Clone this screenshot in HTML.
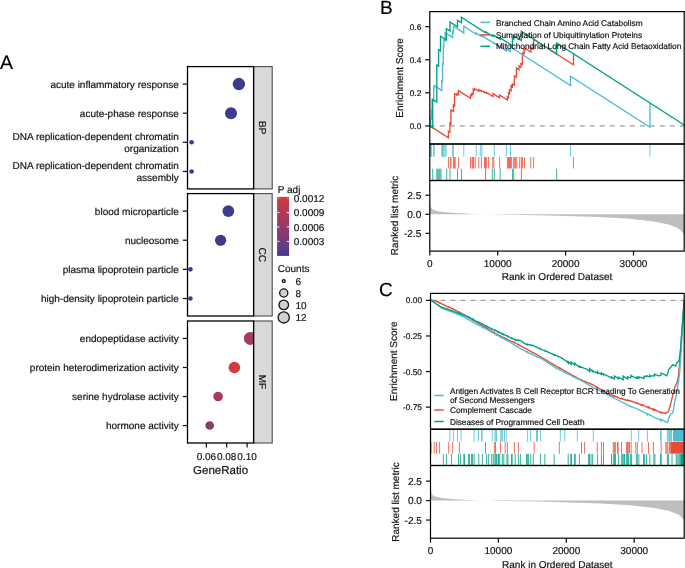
<!DOCTYPE html>
<html><head><meta charset="utf-8"><style>
html,body{margin:0;padding:0;background:#fff;}
svg{display:block;font-family:"Liberation Sans", sans-serif;will-change:transform;text-rendering:geometricPrecision;}
text{stroke:currentColor;stroke-width:0.18px;}
</style></head><body>
<svg width="685" height="568" viewBox="0 0 685 568">
<rect x="0" y="0" width="685" height="568" fill="#fff"/>
<text x="0.00" y="69.00" font-size="19.5" text-anchor="start" fill="#000" color="#000" >A</text>
<defs>
<clipPath id="clipA0"><rect x="187.5" y="66.6" width="66.1" height="122.30000000000001"/></clipPath>
<clipPath id="clipA1"><rect x="187.5" y="193.6" width="66.1" height="122.4"/></clipPath>
<clipPath id="clipA2"><rect x="187.5" y="321.0" width="66.1" height="122.0"/></clipPath>
</defs>
<rect x="253.60" y="66.60" width="18.60" height="122.30" fill="#D9D9D9" stroke="#4D4D4D" stroke-width="1.1" />
<text transform="translate(259.30,127.75) rotate(90)" font-size="10" text-anchor="middle" fill="#111111" color="#111111">BP</text>
<g clip-path="url(#clipA0)">
<circle cx="238.90" cy="84.07" r="6.20" fill="#3E3A8E"/>
<circle cx="231.00" cy="113.19" r="6.00" fill="#3E3A8E"/>
<circle cx="191.60" cy="142.31" r="2.30" fill="#3E3A8E"/>
<circle cx="191.60" cy="171.43" r="2.30" fill="#3E3A8E"/>
</g>
<rect x="187.50" y="66.60" width="66.10" height="122.30" fill="none" stroke="#000" stroke-width="1.3" />
<line x1="182.80" y1="84.07" x2="187.50" y2="84.07" stroke="#111111" stroke-width="1.25" />
<text x="178.80" y="87.67" font-size="10" text-anchor="end" fill="#111111" color="#111111" >acute inflammatory response</text>
<line x1="182.80" y1="113.19" x2="187.50" y2="113.19" stroke="#111111" stroke-width="1.25" />
<text x="178.80" y="116.79" font-size="10" text-anchor="end" fill="#111111" color="#111111" >acute-phase response</text>
<line x1="182.80" y1="142.31" x2="187.50" y2="142.31" stroke="#111111" stroke-width="1.25" />
<text x="178.80" y="140.31" font-size="10" text-anchor="end" fill="#111111" color="#111111" >DNA replication-dependent chromatin</text>
<text x="178.80" y="151.51" font-size="10" text-anchor="end" fill="#111111" color="#111111" >organization</text>
<line x1="182.80" y1="171.43" x2="187.50" y2="171.43" stroke="#111111" stroke-width="1.25" />
<text x="178.80" y="169.43" font-size="10" text-anchor="end" fill="#111111" color="#111111" >DNA replication-dependent chromatin</text>
<text x="178.80" y="180.63" font-size="10" text-anchor="end" fill="#111111" color="#111111" >assembly</text>
<rect x="253.60" y="193.60" width="18.60" height="122.40" fill="#D9D9D9" stroke="#4D4D4D" stroke-width="1.1" />
<text transform="translate(259.30,254.80) rotate(90)" font-size="10" text-anchor="middle" fill="#111111" color="#111111">CC</text>
<g clip-path="url(#clipA1)">
<circle cx="228.35" cy="211.09" r="5.90" fill="#3E3A8E"/>
<circle cx="220.60" cy="240.23" r="5.60" fill="#3E3A8E"/>
<circle cx="190.40" cy="269.37" r="2.30" fill="#3E3A8E"/>
<circle cx="190.40" cy="298.51" r="2.30" fill="#3E3A8E"/>
</g>
<rect x="187.50" y="193.60" width="66.10" height="122.40" fill="none" stroke="#000" stroke-width="1.3" />
<line x1="182.80" y1="211.09" x2="187.50" y2="211.09" stroke="#111111" stroke-width="1.25" />
<text x="178.80" y="214.69" font-size="10" text-anchor="end" fill="#111111" color="#111111" >blood microparticle</text>
<line x1="182.80" y1="240.23" x2="187.50" y2="240.23" stroke="#111111" stroke-width="1.25" />
<text x="178.80" y="243.83" font-size="10" text-anchor="end" fill="#111111" color="#111111" >nucleosome</text>
<line x1="182.80" y1="269.37" x2="187.50" y2="269.37" stroke="#111111" stroke-width="1.25" />
<text x="178.80" y="272.97" font-size="10" text-anchor="end" fill="#111111" color="#111111" >plasma lipoprotein particle</text>
<line x1="182.80" y1="298.51" x2="187.50" y2="298.51" stroke="#111111" stroke-width="1.25" />
<text x="178.80" y="302.11" font-size="10" text-anchor="end" fill="#111111" color="#111111" >high-density lipoprotein particle</text>
<rect x="253.60" y="321.00" width="18.60" height="122.00" fill="#D9D9D9" stroke="#4D4D4D" stroke-width="1.1" />
<text transform="translate(259.30,382.00) rotate(90)" font-size="10" text-anchor="middle" fill="#111111" color="#111111">MF</text>
<g clip-path="url(#clipA2)">
<circle cx="250.40" cy="338.43" r="6.50" fill="#A53C5C"/>
<circle cx="234.40" cy="367.48" r="5.80" fill="#CF3C3E"/>
<circle cx="218.10" cy="396.52" r="4.80" fill="#A53C5C"/>
<circle cx="209.70" cy="425.57" r="4.30" fill="#8C3A6C"/>
</g>
<rect x="187.50" y="321.00" width="66.10" height="122.00" fill="none" stroke="#000" stroke-width="1.3" />
<line x1="182.80" y1="338.43" x2="187.50" y2="338.43" stroke="#111111" stroke-width="1.25" />
<text x="178.80" y="342.03" font-size="10" text-anchor="end" fill="#111111" color="#111111" >endopeptidase activity</text>
<line x1="182.80" y1="367.48" x2="187.50" y2="367.48" stroke="#111111" stroke-width="1.25" />
<text x="178.80" y="371.08" font-size="10" text-anchor="end" fill="#111111" color="#111111" >protein heterodimerization activity</text>
<line x1="182.80" y1="396.52" x2="187.50" y2="396.52" stroke="#111111" stroke-width="1.25" />
<text x="178.80" y="400.12" font-size="10" text-anchor="end" fill="#111111" color="#111111" >serine hydrolase activity</text>
<line x1="182.80" y1="425.57" x2="187.50" y2="425.57" stroke="#111111" stroke-width="1.25" />
<text x="178.80" y="429.17" font-size="10" text-anchor="end" fill="#111111" color="#111111" >hormone activity</text>
<line x1="206.40" y1="443.00" x2="206.40" y2="447.60" stroke="#111111" stroke-width="1.25" />
<text x="206.40" y="459.60" font-size="10" text-anchor="middle" fill="#111111" color="#111111" >0.06</text>
<line x1="226.65" y1="443.00" x2="226.65" y2="447.60" stroke="#111111" stroke-width="1.25" />
<text x="226.65" y="459.60" font-size="10" text-anchor="middle" fill="#111111" color="#111111" >0.08</text>
<line x1="247.10" y1="443.00" x2="247.10" y2="447.60" stroke="#111111" stroke-width="1.25" />
<text x="247.10" y="459.60" font-size="10" text-anchor="middle" fill="#111111" color="#111111" >0.10</text>
<text x="220.60" y="474.20" font-size="11.5" text-anchor="middle" fill="#111111" color="#111111" >GeneRatio</text>
<text x="277.75" y="193.30" font-size="10" text-anchor="start" fill="#111111" color="#111111" >P adj</text>
<defs><linearGradient id="cb" x1="0" y1="0" x2="0" y2="1"><stop offset="0" stop-color="rgb(208,60,62)"/><stop offset="0.154" stop-color="rgb(192,58,75)"/><stop offset="0.358" stop-color="rgb(168,58,92)"/><stop offset="0.493" stop-color="rgb(152,58,102)"/><stop offset="0.832" stop-color="rgb(102,58,130)"/><stop offset="0.968" stop-color="rgb(70,58,140)"/><stop offset="1" stop-color="rgb(64,58,142)"/></linearGradient></defs>
<rect x="277.10" y="196.90" width="12.00" height="59.00" fill="url(#cb)" stroke="none" stroke-width="1.0" />
<line x1="277.10" y1="198.00" x2="279.50" y2="198.00" stroke="#fff" stroke-width="0.9" stroke-opacity="0.45"/>
<line x1="286.70" y1="198.00" x2="289.10" y2="198.00" stroke="#fff" stroke-width="0.9" stroke-opacity="0.45"/>
<text x="293.75" y="201.70" font-size="10" text-anchor="start" fill="#111111" color="#111111" >0.0012</text>
<line x1="277.10" y1="212.50" x2="279.50" y2="212.50" stroke="#fff" stroke-width="0.9" />
<line x1="286.70" y1="212.50" x2="289.10" y2="212.50" stroke="#fff" stroke-width="0.9" />
<text x="293.75" y="216.20" font-size="10" text-anchor="start" fill="#111111" color="#111111" >0.0009</text>
<line x1="277.10" y1="226.90" x2="279.50" y2="226.90" stroke="#fff" stroke-width="0.9" />
<line x1="286.70" y1="226.90" x2="289.10" y2="226.90" stroke="#fff" stroke-width="0.9" />
<text x="293.75" y="230.60" font-size="10" text-anchor="start" fill="#111111" color="#111111" >0.0006</text>
<line x1="277.10" y1="241.35" x2="279.50" y2="241.35" stroke="#fff" stroke-width="0.9" />
<line x1="286.70" y1="241.35" x2="289.10" y2="241.35" stroke="#fff" stroke-width="0.9" />
<text x="293.75" y="245.05" font-size="10" text-anchor="start" fill="#111111" color="#111111" >0.0003</text>
<text x="277.75" y="271.60" font-size="10" text-anchor="start" fill="#111111" color="#111111" >Counts</text>
<circle cx="283.75" cy="281.1" r="1.5" fill="#CFCFCF" stroke="#111" stroke-width="1.3"/>
<text x="295.40" y="284.70" font-size="10" text-anchor="start" fill="#111111" color="#111111" >6</text>
<circle cx="283.75" cy="293.0" r="4.1" fill="#CFCFCF" stroke="#111" stroke-width="1.3"/>
<text x="295.40" y="296.60" font-size="10" text-anchor="start" fill="#111111" color="#111111" >8</text>
<circle cx="283.75" cy="304.9" r="4.8" fill="#CFCFCF" stroke="#111" stroke-width="1.3"/>
<text x="295.40" y="308.50" font-size="10" text-anchor="start" fill="#111111" color="#111111" >10</text>
<circle cx="283.75" cy="317.4" r="5.6" fill="#CFCFCF" stroke="#111" stroke-width="1.3"/>
<text x="295.40" y="321.00" font-size="10" text-anchor="start" fill="#111111" color="#111111" >12</text>
<text x="379.90" y="14.00" font-size="19" text-anchor="start" fill="#000" color="#000" >B</text>
<path d="M429.80,214.30 L429.80,202.11 L430.20,204.39 L430.70,206.68 L432.00,209.12 L435.00,210.49 L438.40,211.25 L442.80,212.01 L448.70,212.55 L454.80,213.00 L459.10,213.23 L467.40,213.61 L474.80,213.92 L482.80,214.22 L487.80,214.30 L499.80,214.60 L539.80,215.21 L599.80,217.04 L629.80,218.87 L653.60,221.54 L668.60,224.43 L677.50,228.02 L680.30,229.92 L682.30,232.21 L683.50,234.11 L684.20,236.40 L684.20,214.30 Z" fill="#BEBEBE" stroke="none"/>
<line x1="429.80" y1="125.90" x2="684.20" y2="125.90" stroke="#9E9E9E" stroke-width="1.3" stroke-dasharray="5 5"/>
<path d="M429.80,125.90 L448.40,137.86 L448.40,131.25 L449.90,132.21 L449.90,123.10 L450.90,123.74 L450.90,110.00 L453.40,111.61 L453.40,105.00 L454.60,105.77 L454.60,93.75 L457.00,95.29 L457.00,93.75 L458.40,94.65 L458.40,90.60 L470.50,98.38 L470.50,95.00 L471.80,95.84 L471.80,93.40 L473.20,94.30 L473.20,89.20 L474.50,90.04 L474.50,88.50 L478.80,91.26 L478.80,89.50 L481.40,91.17 L481.40,90.50 L484.50,92.49 L484.50,92.00 L486.60,93.35 L486.60,92.50 L493.00,96.62 L493.00,93.60 L499.50,97.78 L499.50,95.00 L507.40,100.08 L507.40,97.10 L508.50,97.81 L508.50,93.00 L509.50,93.64 L509.50,89.80 L511.10,90.83 L511.10,85.80 L512.40,86.64 L512.40,83.90 L514.40,85.19 L514.40,75.90 L516.40,77.19 L516.40,68.00 L519.00,69.67 L519.00,66.00 L521.00,67.29 L521.00,63.40 L522.40,64.30 L522.40,54.10 L523.00,54.49 L523.00,52.80 L524.10,53.51 L524.10,49.50 L525.00,50.08 L525.00,48.20 L530.90,51.99 L530.90,47.50 L533.60,49.24 L533.60,39.20 L573.50,64.86 L573.50,53.90" fill="none" stroke="#E64B35" stroke-width="1.35" stroke-linejoin="miter"/>
<path d="M429.80,125.90 L430.80,126.54 L430.80,118.00 L431.40,118.39 L431.40,110.00 L432.00,110.39 L432.00,100.00 L433.70,101.09 L433.70,88.00 L434.20,88.32 L434.20,85.60 L441.70,90.42 L441.70,81.00 L442.50,81.51 L442.50,63.75 L443.30,64.26 L443.30,46.30 L443.90,46.69 L443.90,40.00 L445.10,40.77 L445.10,33.10 L446.10,33.74 L446.10,33.30 L452.50,37.42 L452.50,31.60 L453.50,32.24 L453.50,26.30 L463.80,32.92 L463.80,26.25 L476.20,34.22 L476.20,33.00 L480.30,35.64 L480.30,35.20 L481.90,36.23 L481.90,35.60 L494.30,43.57 L494.30,43.10 L506.40,50.88 L506.40,49.00 L510.50,51.64 L510.50,47.00 L570.50,85.58 L570.50,76.25 L650.00,127.37 L650.00,103.10" fill="none" stroke="#4DBBD5" stroke-width="1.35" stroke-linejoin="miter"/>
<path d="M429.80,125.90 L432.70,127.76 L432.70,99.40 L436.80,102.04 L436.80,65.00 L438.60,66.16 L438.60,49.75 L440.50,50.97 L440.50,36.25 L446.40,40.04 L446.40,28.75 L450.00,31.06 L450.00,21.90 L457.50,26.72 L457.50,20.25 L461.40,22.76 L461.40,17.25 L485.50,32.75 L485.50,31.70 L492.30,36.07 L492.30,35.00 L494.30,36.29 L494.30,35.50 L500.20,39.29 L500.20,38.00 L512.40,45.84 L512.40,38.30 L513.70,39.14 L513.70,35.60 L521.30,40.49 L521.30,31.25 L556.60,53.95 L556.60,43.00 L684.20,125.05" fill="none" stroke="#00A087" stroke-width="1.35" stroke-linejoin="miter"/>
<line x1="429.90" y1="144.60" x2="429.90" y2="156.70" stroke="#4DBBD5" stroke-width="0.8" />
<line x1="430.60" y1="144.60" x2="430.60" y2="156.70" stroke="#4DBBD5" stroke-width="0.8" />
<line x1="431.60" y1="144.60" x2="431.60" y2="156.70" stroke="#4DBBD5" stroke-width="0.8" />
<line x1="433.70" y1="144.60" x2="433.70" y2="156.70" stroke="#4DBBD5" stroke-width="0.8" />
<line x1="434.20" y1="144.60" x2="434.20" y2="156.70" stroke="#4DBBD5" stroke-width="0.8" />
<line x1="441.70" y1="144.60" x2="441.70" y2="156.70" stroke="#4DBBD5" stroke-width="0.8" />
<line x1="442.50" y1="144.60" x2="442.50" y2="156.70" stroke="#4DBBD5" stroke-width="0.8" />
<line x1="443.30" y1="144.60" x2="443.30" y2="156.70" stroke="#4DBBD5" stroke-width="0.8" />
<line x1="443.90" y1="144.60" x2="443.90" y2="156.70" stroke="#4DBBD5" stroke-width="0.8" />
<line x1="445.10" y1="144.60" x2="445.10" y2="156.70" stroke="#4DBBD5" stroke-width="0.8" />
<line x1="446.10" y1="144.60" x2="446.10" y2="156.70" stroke="#4DBBD5" stroke-width="0.8" />
<line x1="452.40" y1="144.60" x2="452.40" y2="156.70" stroke="#4DBBD5" stroke-width="0.8" />
<line x1="453.40" y1="144.60" x2="453.40" y2="156.70" stroke="#4DBBD5" stroke-width="0.8" />
<line x1="463.80" y1="144.60" x2="463.80" y2="156.70" stroke="#4DBBD5" stroke-width="0.8" />
<line x1="476.20" y1="144.60" x2="476.20" y2="156.70" stroke="#4DBBD5" stroke-width="0.8" />
<line x1="480.30" y1="144.60" x2="480.30" y2="156.70" stroke="#4DBBD5" stroke-width="0.8" />
<line x1="481.90" y1="144.60" x2="481.90" y2="156.70" stroke="#4DBBD5" stroke-width="0.8" />
<line x1="494.30" y1="144.60" x2="494.30" y2="156.70" stroke="#4DBBD5" stroke-width="0.8" />
<line x1="506.40" y1="144.60" x2="506.40" y2="156.70" stroke="#4DBBD5" stroke-width="0.8" />
<line x1="510.50" y1="144.60" x2="510.50" y2="156.70" stroke="#4DBBD5" stroke-width="0.8" />
<line x1="570.50" y1="144.60" x2="570.50" y2="156.70" stroke="#4DBBD5" stroke-width="0.8" />
<line x1="650.00" y1="144.60" x2="650.00" y2="156.70" stroke="#4DBBD5" stroke-width="0.8" />
<line x1="448.40" y1="157.00" x2="448.40" y2="168.50" stroke="#E64B35" stroke-width="0.8" />
<line x1="450.30" y1="157.00" x2="450.30" y2="168.50" stroke="#E64B35" stroke-width="0.8" />
<line x1="451.00" y1="157.00" x2="451.00" y2="168.50" stroke="#E64B35" stroke-width="0.8" />
<line x1="453.40" y1="157.00" x2="453.40" y2="168.50" stroke="#E64B35" stroke-width="0.8" />
<line x1="454.40" y1="157.00" x2="454.40" y2="168.50" stroke="#E64B35" stroke-width="0.8" />
<line x1="455.20" y1="157.00" x2="455.20" y2="168.50" stroke="#E64B35" stroke-width="0.8" />
<line x1="458.60" y1="157.00" x2="458.60" y2="168.50" stroke="#E64B35" stroke-width="0.8" />
<line x1="470.50" y1="157.00" x2="470.50" y2="168.50" stroke="#E64B35" stroke-width="0.8" />
<line x1="472.05" y1="157.00" x2="472.05" y2="168.50" stroke="#E64B35" stroke-width="0.8" />
<line x1="472.80" y1="157.00" x2="472.80" y2="168.50" stroke="#E64B35" stroke-width="0.8" />
<line x1="473.60" y1="157.00" x2="473.60" y2="168.50" stroke="#E64B35" stroke-width="0.8" />
<line x1="475.20" y1="157.00" x2="475.20" y2="168.50" stroke="#E64B35" stroke-width="0.8" />
<line x1="478.80" y1="157.00" x2="478.80" y2="168.50" stroke="#E64B35" stroke-width="0.8" />
<line x1="481.40" y1="157.00" x2="481.40" y2="168.50" stroke="#E64B35" stroke-width="0.8" />
<line x1="484.50" y1="157.00" x2="484.50" y2="168.50" stroke="#E64B35" stroke-width="0.8" />
<line x1="485.50" y1="157.00" x2="485.50" y2="168.50" stroke="#E64B35" stroke-width="0.8" />
<line x1="486.60" y1="157.00" x2="486.60" y2="168.50" stroke="#E64B35" stroke-width="0.8" />
<line x1="488.60" y1="157.00" x2="488.60" y2="168.50" stroke="#E64B35" stroke-width="0.8" />
<line x1="492.80" y1="157.00" x2="492.80" y2="168.50" stroke="#E64B35" stroke-width="0.8" />
<line x1="493.80" y1="157.00" x2="493.80" y2="168.50" stroke="#E64B35" stroke-width="0.8" />
<line x1="499.70" y1="157.00" x2="499.70" y2="168.50" stroke="#E64B35" stroke-width="0.8" />
<line x1="507.40" y1="157.00" x2="507.40" y2="168.50" stroke="#E64B35" stroke-width="0.8" />
<line x1="508.50" y1="157.00" x2="508.50" y2="168.50" stroke="#E64B35" stroke-width="0.8" />
<line x1="509.50" y1="157.00" x2="509.50" y2="168.50" stroke="#E64B35" stroke-width="0.8" />
<line x1="510.50" y1="157.00" x2="510.50" y2="168.50" stroke="#E64B35" stroke-width="0.8" />
<line x1="511.60" y1="157.00" x2="511.60" y2="168.50" stroke="#E64B35" stroke-width="0.8" />
<line x1="513.70" y1="157.00" x2="513.70" y2="168.50" stroke="#E64B35" stroke-width="0.8" />
<line x1="514.70" y1="157.00" x2="514.70" y2="168.50" stroke="#E64B35" stroke-width="0.8" />
<line x1="515.70" y1="157.00" x2="515.70" y2="168.50" stroke="#E64B35" stroke-width="0.8" />
<line x1="516.80" y1="157.00" x2="516.80" y2="168.50" stroke="#E64B35" stroke-width="0.8" />
<line x1="519.70" y1="157.00" x2="519.70" y2="168.50" stroke="#E64B35" stroke-width="0.8" />
<line x1="521.40" y1="157.00" x2="521.40" y2="168.50" stroke="#E64B35" stroke-width="0.8" />
<line x1="522.50" y1="157.00" x2="522.50" y2="168.50" stroke="#E64B35" stroke-width="0.8" />
<line x1="524.50" y1="157.00" x2="524.50" y2="168.50" stroke="#E64B35" stroke-width="0.8" />
<line x1="530.80" y1="157.00" x2="530.80" y2="168.50" stroke="#E64B35" stroke-width="0.8" />
<line x1="533.60" y1="157.00" x2="533.60" y2="168.50" stroke="#E64B35" stroke-width="0.8" />
<line x1="573.40" y1="157.00" x2="573.40" y2="168.50" stroke="#E64B35" stroke-width="0.8" />
<line x1="432.70" y1="168.70" x2="432.70" y2="180.00" stroke="#00A087" stroke-width="0.8" />
<line x1="436.80" y1="168.70" x2="436.80" y2="180.00" stroke="#00A087" stroke-width="0.8" />
<line x1="437.80" y1="168.70" x2="437.80" y2="180.00" stroke="#00A087" stroke-width="0.8" />
<line x1="438.90" y1="168.70" x2="438.90" y2="180.00" stroke="#00A087" stroke-width="0.8" />
<line x1="439.90" y1="168.70" x2="439.90" y2="180.00" stroke="#00A087" stroke-width="0.8" />
<line x1="441.00" y1="168.70" x2="441.00" y2="180.00" stroke="#00A087" stroke-width="0.8" />
<line x1="446.70" y1="168.70" x2="446.70" y2="180.00" stroke="#00A087" stroke-width="0.8" />
<line x1="450.00" y1="168.70" x2="450.00" y2="180.00" stroke="#00A087" stroke-width="0.8" />
<line x1="457.50" y1="168.70" x2="457.50" y2="180.00" stroke="#00A087" stroke-width="0.8" />
<line x1="461.40" y1="168.70" x2="461.40" y2="180.00" stroke="#00A087" stroke-width="0.8" />
<line x1="485.50" y1="168.70" x2="485.50" y2="180.00" stroke="#00A087" stroke-width="0.8" />
<line x1="492.30" y1="168.70" x2="492.30" y2="180.00" stroke="#00A087" stroke-width="0.8" />
<line x1="494.30" y1="168.70" x2="494.30" y2="180.00" stroke="#00A087" stroke-width="0.8" />
<line x1="500.20" y1="168.70" x2="500.20" y2="180.00" stroke="#00A087" stroke-width="0.8" />
<line x1="512.60" y1="168.70" x2="512.60" y2="180.00" stroke="#00A087" stroke-width="0.8" />
<line x1="513.70" y1="168.70" x2="513.70" y2="180.00" stroke="#00A087" stroke-width="0.8" />
<line x1="521.40" y1="168.70" x2="521.40" y2="180.00" stroke="#00A087" stroke-width="0.8" />
<line x1="556.70" y1="168.70" x2="556.70" y2="180.00" stroke="#00A087" stroke-width="0.8" />
<rect x="429.80" y="11.60" width="254.40" height="132.40" fill="none" stroke="#000" stroke-width="1.2" />
<rect x="429.80" y="144.00" width="254.40" height="36.50" fill="none" stroke="#000" stroke-width="1.2" />
<rect x="429.80" y="180.50" width="254.40" height="70.60" fill="none" stroke="#000" stroke-width="1.2" />
<line x1="425.20" y1="125.90" x2="429.80" y2="125.90" stroke="#111111" stroke-width="1.25" />
<text x="421.30" y="128.90" font-size="8.3" text-anchor="end" fill="#111111" color="#111111" >0.0</text>
<line x1="425.20" y1="92.82" x2="429.80" y2="92.82" stroke="#111111" stroke-width="1.25" />
<text x="421.30" y="95.82" font-size="8.3" text-anchor="end" fill="#111111" color="#111111" >0.2</text>
<line x1="425.20" y1="59.74" x2="429.80" y2="59.74" stroke="#111111" stroke-width="1.25" />
<text x="421.30" y="62.74" font-size="8.3" text-anchor="end" fill="#111111" color="#111111" >0.4</text>
<line x1="425.20" y1="26.66" x2="429.80" y2="26.66" stroke="#111111" stroke-width="1.25" />
<text x="421.30" y="29.66" font-size="8.3" text-anchor="end" fill="#111111" color="#111111" >0.6</text>
<line x1="425.40" y1="195.25" x2="429.80" y2="195.25" stroke="#111111" stroke-width="1.25" />
<text x="421.30" y="198.85" font-size="10.1" text-anchor="end" fill="#111111" color="#111111" >2.5</text>
<line x1="425.40" y1="214.30" x2="429.80" y2="214.30" stroke="#111111" stroke-width="1.25" />
<text x="421.30" y="217.90" font-size="10.1" text-anchor="end" fill="#111111" color="#111111" >0.0</text>
<line x1="425.40" y1="233.35" x2="429.80" y2="233.35" stroke="#111111" stroke-width="1.25" />
<text x="421.30" y="236.95" font-size="10.1" text-anchor="end" fill="#111111" color="#111111" >-2.5</text>
<line x1="429.80" y1="251.10" x2="429.80" y2="255.60" stroke="#111111" stroke-width="1.25" />
<text x="429.80" y="266.50" font-size="10" text-anchor="middle" fill="#111111" color="#111111" >0</text>
<line x1="497.70" y1="251.10" x2="497.70" y2="255.60" stroke="#111111" stroke-width="1.25" />
<text x="497.70" y="266.50" font-size="10" text-anchor="middle" fill="#111111" color="#111111" >10000</text>
<line x1="565.60" y1="251.10" x2="565.60" y2="255.60" stroke="#111111" stroke-width="1.25" />
<text x="565.60" y="266.50" font-size="10" text-anchor="middle" fill="#111111" color="#111111" >20000</text>
<line x1="633.50" y1="251.10" x2="633.50" y2="255.60" stroke="#111111" stroke-width="1.25" />
<text x="633.50" y="266.50" font-size="10" text-anchor="middle" fill="#111111" color="#111111" >30000</text>
<text x="557.00" y="280.40" font-size="10" text-anchor="middle" fill="#111111" color="#111111" >Rank in Ordered Dataset</text>
<text transform="translate(403.40,77.90) rotate(-90)" font-size="10" text-anchor="middle" fill="#111111" color="#111111">Enrichment Score</text>
<text transform="translate(397.90,215.40) rotate(-90)" font-size="10" text-anchor="middle" fill="#111111" color="#111111">Ranked list metric</text>
<line x1="480.40" y1="22.40" x2="490.10" y2="22.40" stroke="#4DBBD5" stroke-width="1.5" />
<text x="495.90" y="26.00" font-size="8.3" text-anchor="start" fill="#111111" color="#111111" >Branched Chain Amino Acid Catabolism</text>
<line x1="480.40" y1="34.90" x2="490.10" y2="34.90" stroke="#E64B35" stroke-width="1.5" />
<text x="495.90" y="38.00" font-size="8.3" text-anchor="start" fill="#111111" color="#111111" >Sumoylation of Ubiquitinylation Proteins</text>
<line x1="480.40" y1="46.30" x2="490.10" y2="46.30" stroke="#00A087" stroke-width="1.5" />
<text x="495.90" y="49.40" font-size="8.3" text-anchor="start" fill="#111111" color="#111111" >Mitochondrial Long Chain Fatty Acid Betaoxidation</text>
<text x="379.00" y="296.20" font-size="19" text-anchor="start" fill="#000" color="#000" >C</text>
<path d="M430.50,500.60 L430.50,488.15 L430.90,490.49 L431.40,492.82 L432.70,495.31 L435.70,496.71 L439.10,497.49 L443.50,498.27 L449.40,498.81 L455.50,499.28 L459.80,499.51 L468.10,499.90 L475.50,500.21 L483.50,500.52 L488.50,500.60 L500.50,500.91 L540.50,501.53 L600.50,503.40 L630.50,505.27 L654.30,507.99 L669.30,510.95 L678.20,514.60 L681.00,516.55 L683.00,518.88 L684.20,520.83 L684.20,523.16 L684.20,500.60 Z" fill="#BEBEBE" stroke="none"/>
<line x1="430.50" y1="300.40" x2="684.20" y2="300.40" stroke="#9E9E9E" stroke-width="1.3" stroke-dasharray="5 5"/>
<path d="M430.50,300.00 L431.10,300.26 L431.10,299.96 L434.20,300.81 L434.20,300.51 L436.10,301.00 L436.50,301.35 L436.50,301.05 L439.60,302.93 L439.60,302.63 L441.40,303.70 L448.70,307.15 L448.70,306.85 L452.70,308.96 L452.70,308.66 L454.90,309.80 L459.40,312.44 L459.40,312.14 L468.30,317.20 L481.70,325.20 L485.50,327.65 L485.50,327.35 L494.90,333.40 L494.90,332.95 L495.10,333.30 L500.40,336.08 L500.40,335.78 L505.20,338.46 L505.20,338.16 L507.40,339.55 L507.40,339.25 L508.60,340.00 L514.40,342.69 L514.40,342.39 L515.00,342.80 L518.30,344.75 L518.30,344.45 L528.40,350.10 L534.20,353.43 L534.20,353.13 L541.90,357.50 L555.30,365.60 L559.30,367.96 L559.30,367.66 L568.70,373.00 L581.50,380.22 L581.50,379.92 L582.10,380.40 L584.60,381.56 L584.60,381.26 L593.00,384.80 L597.20,387.49 L597.20,387.19 L601.40,390.03 L601.40,389.73 L603.50,391.30 L603.50,391.00 L606.40,392.90 L614.33,396.37 L614.33,395.77 L617.85,397.71 L617.85,397.25 L619.90,398.30 L621.50,398.85 L621.50,398.55 L627.92,400.70 L627.92,399.95 L630.60,401.00 L631.10,401.33 L631.10,401.03 L636.55,403.31 L636.55,402.86 L640.00,404.30 L642.00,405.52 L642.00,404.52 L648.50,407.87 L648.50,406.87 L649.40,407.70 L653.40,409.96 L653.40,408.96 L660.10,412.40 L661.20,413.12 L661.20,412.12 L665.50,413.50 L666.87,412.59 L668.20,411.70 L669.50,407.80 L670.20,405.70 L672.20,397.60 L674.90,386.90 L676.90,382.80 L678.30,377.50 L679.60,364.00 L680.60,350.00 L684.20,300.00" fill="none" stroke="#E64B35" stroke-width="1.35" stroke-linejoin="miter"/>
<path d="M430.50,300.00 L430.60,300.22 L430.60,299.92 L441.40,307.80 L449.80,311.25 L449.80,310.95 L453.40,312.66 L453.40,312.36 L454.90,313.10 L457.50,314.38 L457.50,314.08 L461.00,315.91 L461.00,315.61 L464.30,317.20 L474.10,322.85 L474.10,322.55 L475.00,323.20 L478.50,325.13 L478.50,324.83 L481.70,326.60 L481.90,326.94 L481.90,326.49 L492.30,332.60 L492.30,332.30 L495.10,334.00 L495.80,334.68 L495.80,334.08 L501.73,337.89 L501.73,337.29 L504.50,339.23 L504.50,338.93 L506.20,340.15 L506.20,339.85 L508.60,341.30 L515.00,345.40 L527.60,352.51 L527.60,352.21 L528.40,352.80 L530.60,353.94 L530.60,353.64 L537.00,356.91 L537.00,356.46 L540.60,358.46 L540.60,358.16 L541.90,358.90 L555.30,367.60 L560.30,370.25 L560.30,369.95 L564.80,372.50 L564.80,372.20 L568.70,374.30 L577.30,378.75 L577.30,378.45 L582.10,381.00 L593.00,387.50 L593.30,387.80 L593.30,387.50 L606.40,394.20 L619.90,401.00 L630.60,406.30 L631.30,406.74 L631.30,406.44 L638.70,409.70 L638.70,409.85 L638.70,409.55 L646.70,413.70 L647.40,414.55 L647.40,413.55 L654.80,417.70 L660.10,419.80 L660.90,420.84 L660.90,419.34 L667.50,422.50 L668.90,417.70 L669.46,416.58 L670.90,413.70 L672.90,413.00 L674.30,404.30 L676.30,394.90 L678.30,382.80 L679.60,373.40 L680.60,359.00 L681.10,350.00 L684.20,300.00" fill="none" stroke="#4DBBD5" stroke-width="1.35" stroke-linejoin="miter"/>
<path d="M430.50,300.00 L436.10,303.70 L441.40,307.10 L443.30,307.96 L443.30,307.56 L446.40,309.04 L446.40,308.64 L451.60,310.85 L451.60,310.45 L454.90,311.80 L458.60,313.30 L458.60,312.90 L460.60,314.00 L460.60,313.60 L464.15,315.35 L464.15,314.75 L464.30,315.10 L468.95,317.75 L468.95,317.15 L472.73,319.76 L472.73,318.96 L475.00,320.50 L478.80,322.63 L478.80,322.23 L481.70,323.90 L482.40,324.45 L482.40,324.05 L486.60,326.55 L486.60,326.15 L488.60,327.55 L488.60,327.15 L491.70,329.10 L491.70,328.70 L495.10,330.60 L495.10,331.10 L495.10,330.10 L498.77,332.63 L498.77,331.83 L503.05,334.43 L503.05,333.83 L507.45,336.39 L507.45,335.79 L508.60,336.60 L511.85,338.47 L511.85,337.87 L515.00,339.70 L515.20,339.94 L515.20,339.54 L518.30,340.51 L518.30,340.11 L520.40,340.70 L520.40,340.90 L520.40,340.50 L525.70,344.10 L527.43,344.86 L527.43,344.06 L530.80,345.37 L530.80,344.97 L533.30,345.90 L533.30,345.50 L533.80,345.80 L540.60,349.11 L540.60,348.71 L541.90,349.50 L544.80,350.97 L544.80,350.57 L552.60,354.20 L554.10,355.04 L554.10,354.64 L562.00,358.20 L567.40,362.00 L568.20,363.01 L568.20,361.51 L571.15,364.36 L571.15,362.11 L574.10,364.20 L574.85,365.62 L574.85,363.37 L579.40,367.01 L579.40,365.51 L579.50,366.30 L587.50,369.60 L589.63,371.60 L589.63,368.60 L592.60,371.56 L592.60,370.06 L593.00,370.90 L597.60,373.27 L597.60,371.77 L598.40,372.80 L601.40,374.29 L601.40,372.79 L603.50,374.80 L603.50,373.30 L603.70,374.10 L611.50,377.84 L611.50,376.34 L611.80,377.20 L614.43,378.99 L614.43,375.99 L618.40,378.68 L618.40,377.18 L619.90,378.10 L623.17,379.73 L623.17,375.98 L627.47,379.03 L627.47,376.03 L627.90,377.50 L631.00,377.57 L631.00,375.32 L632.00,376.10 L636.80,378.49 L636.80,376.24 L637.30,377.50 L638.90,378.43 L638.90,376.93 L642.70,378.10 L644.05,378.45 L644.05,376.20 L646.60,376.61 L646.60,375.11 L646.70,375.80 L649.80,376.78 L649.80,375.28 L650.70,376.10 L654.40,375.78 L654.40,373.53 L654.80,374.50 L658.80,375.80 L660.90,375.44 L660.90,373.19 L662.20,373.40 L666.90,375.80 L667.90,372.60 L668.90,369.40 L672.00,365.76 L672.90,364.70 L675.60,366.00 L676.90,362.70 L678.00,361.65 L679.00,360.70 L680.30,351.50 L684.20,300.00" fill="none" stroke="#00A087" stroke-width="1.35" stroke-linejoin="miter"/>
<line x1="430.60" y1="429.90" x2="430.60" y2="441.60" stroke="#4DBBD5" stroke-width="0.8" />
<line x1="449.80" y1="429.90" x2="449.80" y2="441.60" stroke="#4DBBD5" stroke-width="0.8" />
<line x1="453.40" y1="429.90" x2="453.40" y2="441.60" stroke="#4DBBD5" stroke-width="0.8" />
<line x1="457.50" y1="429.90" x2="457.50" y2="441.60" stroke="#4DBBD5" stroke-width="0.8" />
<line x1="461.00" y1="429.90" x2="461.00" y2="441.60" stroke="#4DBBD5" stroke-width="0.8" />
<line x1="474.10" y1="429.90" x2="474.10" y2="441.60" stroke="#4DBBD5" stroke-width="0.8" />
<line x1="478.50" y1="429.90" x2="478.50" y2="441.60" stroke="#4DBBD5" stroke-width="0.8" />
<line x1="481.70" y1="429.90" x2="481.70" y2="441.60" stroke="#4DBBD5" stroke-width="0.8" />
<line x1="482.10" y1="429.90" x2="482.10" y2="441.60" stroke="#4DBBD5" stroke-width="0.8" />
<line x1="492.30" y1="429.90" x2="492.30" y2="441.60" stroke="#4DBBD5" stroke-width="0.8" />
<line x1="494.90" y1="429.90" x2="494.90" y2="441.60" stroke="#4DBBD5" stroke-width="0.8" />
<line x1="495.90" y1="429.90" x2="495.90" y2="441.60" stroke="#4DBBD5" stroke-width="0.8" />
<line x1="496.60" y1="429.90" x2="496.60" y2="441.60" stroke="#4DBBD5" stroke-width="0.8" />
<line x1="500.70" y1="429.90" x2="500.70" y2="441.60" stroke="#4DBBD5" stroke-width="0.8" />
<line x1="501.70" y1="429.90" x2="501.70" y2="441.60" stroke="#4DBBD5" stroke-width="0.8" />
<line x1="502.80" y1="429.90" x2="502.80" y2="441.60" stroke="#4DBBD5" stroke-width="0.8" />
<line x1="504.50" y1="429.90" x2="504.50" y2="441.60" stroke="#4DBBD5" stroke-width="0.8" />
<line x1="506.20" y1="429.90" x2="506.20" y2="441.60" stroke="#4DBBD5" stroke-width="0.8" />
<line x1="527.60" y1="429.90" x2="527.60" y2="441.60" stroke="#4DBBD5" stroke-width="0.8" />
<line x1="530.60" y1="429.90" x2="530.60" y2="441.60" stroke="#4DBBD5" stroke-width="0.8" />
<line x1="536.50" y1="429.90" x2="536.50" y2="441.60" stroke="#4DBBD5" stroke-width="0.8" />
<line x1="537.50" y1="429.90" x2="537.50" y2="441.60" stroke="#4DBBD5" stroke-width="0.8" />
<line x1="540.60" y1="429.90" x2="540.60" y2="441.60" stroke="#4DBBD5" stroke-width="0.8" />
<line x1="560.30" y1="429.90" x2="560.30" y2="441.60" stroke="#4DBBD5" stroke-width="0.8" />
<line x1="564.80" y1="429.90" x2="564.80" y2="441.60" stroke="#4DBBD5" stroke-width="0.8" />
<line x1="577.30" y1="429.90" x2="577.30" y2="441.60" stroke="#4DBBD5" stroke-width="0.8" />
<line x1="593.30" y1="429.90" x2="593.30" y2="441.60" stroke="#4DBBD5" stroke-width="0.8" />
<line x1="631.30" y1="429.90" x2="631.30" y2="441.60" stroke="#4DBBD5" stroke-width="0.8" />
<line x1="638.70" y1="429.90" x2="638.70" y2="441.60" stroke="#4DBBD5" stroke-width="0.8" />
<line x1="647.40" y1="429.90" x2="647.40" y2="441.60" stroke="#4DBBD5" stroke-width="0.8" />
<line x1="660.60" y1="429.90" x2="660.60" y2="441.60" stroke="#4DBBD5" stroke-width="0.8" />
<line x1="661.20" y1="429.90" x2="661.20" y2="441.60" stroke="#4DBBD5" stroke-width="0.8" />
<line x1="667.40" y1="429.90" x2="667.40" y2="441.60" stroke="#4DBBD5" stroke-width="0.8" />
<line x1="668.40" y1="429.90" x2="668.40" y2="441.60" stroke="#4DBBD5" stroke-width="0.8" />
<line x1="669.50" y1="429.90" x2="669.50" y2="441.60" stroke="#4DBBD5" stroke-width="0.8" />
<line x1="670.50" y1="429.90" x2="670.50" y2="441.60" stroke="#4DBBD5" stroke-width="0.8" />
<line x1="671.50" y1="429.90" x2="671.50" y2="441.60" stroke="#4DBBD5" stroke-width="0.8" />
<rect x="672.90" y="429.90" width="11.30" height="11.70" fill="#4DBBD5"/>
<line x1="431.10" y1="442.00" x2="431.10" y2="453.70" stroke="#E64B35" stroke-width="0.8" />
<line x1="434.20" y1="442.00" x2="434.20" y2="453.70" stroke="#E64B35" stroke-width="0.8" />
<line x1="436.50" y1="442.00" x2="436.50" y2="453.70" stroke="#E64B35" stroke-width="0.8" />
<line x1="439.60" y1="442.00" x2="439.60" y2="453.70" stroke="#E64B35" stroke-width="0.8" />
<line x1="448.70" y1="442.00" x2="448.70" y2="453.70" stroke="#E64B35" stroke-width="0.8" />
<line x1="452.70" y1="442.00" x2="452.70" y2="453.70" stroke="#E64B35" stroke-width="0.8" />
<line x1="459.40" y1="442.00" x2="459.40" y2="453.70" stroke="#E64B35" stroke-width="0.8" />
<line x1="485.50" y1="442.00" x2="485.50" y2="453.70" stroke="#E64B35" stroke-width="0.8" />
<line x1="494.30" y1="442.00" x2="494.30" y2="453.70" stroke="#E64B35" stroke-width="0.8" />
<line x1="495.50" y1="442.00" x2="495.50" y2="453.70" stroke="#E64B35" stroke-width="0.8" />
<line x1="500.40" y1="442.00" x2="500.40" y2="453.70" stroke="#E64B35" stroke-width="0.8" />
<line x1="505.20" y1="442.00" x2="505.20" y2="453.70" stroke="#E64B35" stroke-width="0.8" />
<line x1="507.40" y1="442.00" x2="507.40" y2="453.70" stroke="#E64B35" stroke-width="0.8" />
<line x1="514.40" y1="442.00" x2="514.40" y2="453.70" stroke="#E64B35" stroke-width="0.8" />
<line x1="518.30" y1="442.00" x2="518.30" y2="453.70" stroke="#E64B35" stroke-width="0.8" />
<line x1="534.20" y1="442.00" x2="534.20" y2="453.70" stroke="#E64B35" stroke-width="0.8" />
<line x1="559.30" y1="442.00" x2="559.30" y2="453.70" stroke="#E64B35" stroke-width="0.8" />
<line x1="581.50" y1="442.00" x2="581.50" y2="453.70" stroke="#E64B35" stroke-width="0.8" />
<line x1="584.60" y1="442.00" x2="584.60" y2="453.70" stroke="#E64B35" stroke-width="0.8" />
<line x1="597.20" y1="442.00" x2="597.20" y2="453.70" stroke="#E64B35" stroke-width="0.8" />
<line x1="601.40" y1="442.00" x2="601.40" y2="453.70" stroke="#E64B35" stroke-width="0.8" />
<line x1="603.50" y1="442.00" x2="603.50" y2="453.70" stroke="#E64B35" stroke-width="0.8" />
<line x1="613.30" y1="442.00" x2="613.30" y2="453.70" stroke="#E64B35" stroke-width="0.8" />
<line x1="614.30" y1="442.00" x2="614.30" y2="453.70" stroke="#E64B35" stroke-width="0.8" />
<line x1="615.40" y1="442.00" x2="615.40" y2="453.70" stroke="#E64B35" stroke-width="0.8" />
<line x1="617.60" y1="442.00" x2="617.60" y2="453.70" stroke="#E64B35" stroke-width="0.8" />
<line x1="618.10" y1="442.00" x2="618.10" y2="453.70" stroke="#E64B35" stroke-width="0.8" />
<line x1="621.50" y1="442.00" x2="621.50" y2="453.70" stroke="#E64B35" stroke-width="0.8" />
<line x1="626.40" y1="442.00" x2="626.40" y2="453.70" stroke="#E64B35" stroke-width="0.8" />
<line x1="627.50" y1="442.00" x2="627.50" y2="453.70" stroke="#E64B35" stroke-width="0.8" />
<line x1="628.30" y1="442.00" x2="628.30" y2="453.70" stroke="#E64B35" stroke-width="0.8" />
<line x1="629.50" y1="442.00" x2="629.50" y2="453.70" stroke="#E64B35" stroke-width="0.8" />
<line x1="631.10" y1="442.00" x2="631.10" y2="453.70" stroke="#E64B35" stroke-width="0.8" />
<line x1="635.80" y1="442.00" x2="635.80" y2="453.70" stroke="#E64B35" stroke-width="0.8" />
<line x1="637.30" y1="442.00" x2="637.30" y2="453.70" stroke="#E64B35" stroke-width="0.8" />
<line x1="642.00" y1="442.00" x2="642.00" y2="453.70" stroke="#E64B35" stroke-width="0.8" />
<line x1="648.50" y1="442.00" x2="648.50" y2="453.70" stroke="#E64B35" stroke-width="0.8" />
<line x1="653.40" y1="442.00" x2="653.40" y2="453.70" stroke="#E64B35" stroke-width="0.8" />
<line x1="661.20" y1="442.00" x2="661.20" y2="453.70" stroke="#E64B35" stroke-width="0.8" />
<line x1="665.80" y1="442.00" x2="665.80" y2="453.70" stroke="#E64B35" stroke-width="0.8" />
<line x1="666.90" y1="442.00" x2="666.90" y2="453.70" stroke="#E64B35" stroke-width="0.8" />
<line x1="667.90" y1="442.00" x2="667.90" y2="453.70" stroke="#E64B35" stroke-width="0.8" />
<line x1="669.50" y1="442.00" x2="669.50" y2="453.70" stroke="#E64B35" stroke-width="0.8" />
<rect x="670.30" y="442.00" width="13.90" height="11.70" fill="#E64B35"/>
<line x1="443.30" y1="453.90" x2="443.30" y2="465.20" stroke="#00A087" stroke-width="0.8" />
<line x1="446.40" y1="453.90" x2="446.40" y2="465.20" stroke="#00A087" stroke-width="0.8" />
<line x1="451.60" y1="453.90" x2="451.60" y2="465.20" stroke="#00A087" stroke-width="0.8" />
<line x1="458.60" y1="453.90" x2="458.60" y2="465.20" stroke="#00A087" stroke-width="0.8" />
<line x1="460.60" y1="453.90" x2="460.60" y2="465.20" stroke="#00A087" stroke-width="0.8" />
<line x1="463.80" y1="453.90" x2="463.80" y2="465.20" stroke="#00A087" stroke-width="0.8" />
<line x1="464.50" y1="453.90" x2="464.50" y2="465.20" stroke="#00A087" stroke-width="0.8" />
<line x1="468.40" y1="453.90" x2="468.40" y2="465.20" stroke="#00A087" stroke-width="0.8" />
<line x1="469.50" y1="453.90" x2="469.50" y2="465.20" stroke="#00A087" stroke-width="0.8" />
<line x1="471.50" y1="453.90" x2="471.50" y2="465.20" stroke="#00A087" stroke-width="0.8" />
<line x1="472.60" y1="453.90" x2="472.60" y2="465.20" stroke="#00A087" stroke-width="0.8" />
<line x1="474.10" y1="453.90" x2="474.10" y2="465.20" stroke="#00A087" stroke-width="0.8" />
<line x1="478.80" y1="453.90" x2="478.80" y2="465.20" stroke="#00A087" stroke-width="0.8" />
<line x1="482.40" y1="453.90" x2="482.40" y2="465.20" stroke="#00A087" stroke-width="0.8" />
<line x1="486.60" y1="453.90" x2="486.60" y2="465.20" stroke="#00A087" stroke-width="0.8" />
<line x1="488.60" y1="453.90" x2="488.60" y2="465.20" stroke="#00A087" stroke-width="0.8" />
<line x1="491.70" y1="453.90" x2="491.70" y2="465.20" stroke="#00A087" stroke-width="0.8" />
<line x1="493.30" y1="453.90" x2="493.30" y2="465.20" stroke="#00A087" stroke-width="0.8" />
<line x1="494.90" y1="453.90" x2="494.90" y2="465.20" stroke="#00A087" stroke-width="0.8" />
<line x1="495.80" y1="453.90" x2="495.80" y2="465.20" stroke="#00A087" stroke-width="0.8" />
<line x1="496.40" y1="453.90" x2="496.40" y2="465.20" stroke="#00A087" stroke-width="0.8" />
<line x1="498.00" y1="453.90" x2="498.00" y2="465.20" stroke="#00A087" stroke-width="0.8" />
<line x1="498.60" y1="453.90" x2="498.60" y2="465.20" stroke="#00A087" stroke-width="0.8" />
<line x1="499.70" y1="453.90" x2="499.70" y2="465.20" stroke="#00A087" stroke-width="0.8" />
<line x1="502.30" y1="453.90" x2="502.30" y2="465.20" stroke="#00A087" stroke-width="0.8" />
<line x1="503.80" y1="453.90" x2="503.80" y2="465.20" stroke="#00A087" stroke-width="0.8" />
<line x1="506.90" y1="453.90" x2="506.90" y2="465.20" stroke="#00A087" stroke-width="0.8" />
<line x1="508.00" y1="453.90" x2="508.00" y2="465.20" stroke="#00A087" stroke-width="0.8" />
<line x1="511.60" y1="453.90" x2="511.60" y2="465.20" stroke="#00A087" stroke-width="0.8" />
<line x1="512.10" y1="453.90" x2="512.10" y2="465.20" stroke="#00A087" stroke-width="0.8" />
<line x1="515.20" y1="453.90" x2="515.20" y2="465.20" stroke="#00A087" stroke-width="0.8" />
<line x1="518.30" y1="453.90" x2="518.30" y2="465.20" stroke="#00A087" stroke-width="0.8" />
<line x1="520.40" y1="453.90" x2="520.40" y2="465.20" stroke="#00A087" stroke-width="0.8" />
<line x1="526.60" y1="453.90" x2="526.60" y2="465.20" stroke="#00A087" stroke-width="0.8" />
<line x1="527.30" y1="453.90" x2="527.30" y2="465.20" stroke="#00A087" stroke-width="0.8" />
<line x1="528.40" y1="453.90" x2="528.40" y2="465.20" stroke="#00A087" stroke-width="0.8" />
<line x1="530.80" y1="453.90" x2="530.80" y2="465.20" stroke="#00A087" stroke-width="0.8" />
<line x1="533.30" y1="453.90" x2="533.30" y2="465.20" stroke="#00A087" stroke-width="0.8" />
<line x1="540.60" y1="453.90" x2="540.60" y2="465.20" stroke="#00A087" stroke-width="0.8" />
<line x1="544.80" y1="453.90" x2="544.80" y2="465.20" stroke="#00A087" stroke-width="0.8" />
<line x1="554.10" y1="453.90" x2="554.10" y2="465.20" stroke="#00A087" stroke-width="0.8" />
<line x1="568.20" y1="453.90" x2="568.20" y2="465.20" stroke="#00A087" stroke-width="0.8" />
<line x1="570.80" y1="453.90" x2="570.80" y2="465.20" stroke="#00A087" stroke-width="0.8" />
<line x1="571.50" y1="453.90" x2="571.50" y2="465.20" stroke="#00A087" stroke-width="0.8" />
<line x1="574.40" y1="453.90" x2="574.40" y2="465.20" stroke="#00A087" stroke-width="0.8" />
<line x1="575.30" y1="453.90" x2="575.30" y2="465.20" stroke="#00A087" stroke-width="0.8" />
<line x1="579.40" y1="453.90" x2="579.40" y2="465.20" stroke="#00A087" stroke-width="0.8" />
<line x1="588.40" y1="453.90" x2="588.40" y2="465.20" stroke="#00A087" stroke-width="0.8" />
<line x1="589.50" y1="453.90" x2="589.50" y2="465.20" stroke="#00A087" stroke-width="0.8" />
<line x1="591.00" y1="453.90" x2="591.00" y2="465.20" stroke="#00A087" stroke-width="0.8" />
<line x1="592.60" y1="453.90" x2="592.60" y2="465.20" stroke="#00A087" stroke-width="0.8" />
<line x1="597.60" y1="453.90" x2="597.60" y2="465.20" stroke="#00A087" stroke-width="0.8" />
<line x1="601.40" y1="453.90" x2="601.40" y2="465.20" stroke="#00A087" stroke-width="0.8" />
<line x1="603.50" y1="453.90" x2="603.50" y2="465.20" stroke="#00A087" stroke-width="0.8" />
<line x1="611.50" y1="453.90" x2="611.50" y2="465.20" stroke="#00A087" stroke-width="0.8" />
<line x1="613.30" y1="453.90" x2="613.30" y2="465.20" stroke="#00A087" stroke-width="0.8" />
<line x1="614.50" y1="453.90" x2="614.50" y2="465.20" stroke="#00A087" stroke-width="0.8" />
<line x1="615.50" y1="453.90" x2="615.50" y2="465.20" stroke="#00A087" stroke-width="0.8" />
<line x1="618.40" y1="453.90" x2="618.40" y2="465.20" stroke="#00A087" stroke-width="0.8" />
<line x1="621.70" y1="453.90" x2="621.70" y2="465.20" stroke="#00A087" stroke-width="0.8" />
<line x1="622.70" y1="453.90" x2="622.70" y2="465.20" stroke="#00A087" stroke-width="0.8" />
<line x1="623.80" y1="453.90" x2="623.80" y2="465.20" stroke="#00A087" stroke-width="0.8" />
<line x1="624.50" y1="453.90" x2="624.50" y2="465.20" stroke="#00A087" stroke-width="0.8" />
<line x1="626.40" y1="453.90" x2="626.40" y2="465.20" stroke="#00A087" stroke-width="0.8" />
<line x1="627.50" y1="453.90" x2="627.50" y2="465.20" stroke="#00A087" stroke-width="0.8" />
<line x1="628.50" y1="453.90" x2="628.50" y2="465.20" stroke="#00A087" stroke-width="0.8" />
<line x1="630.60" y1="453.90" x2="630.60" y2="465.20" stroke="#00A087" stroke-width="0.8" />
<line x1="631.40" y1="453.90" x2="631.40" y2="465.20" stroke="#00A087" stroke-width="0.8" />
<line x1="636.30" y1="453.90" x2="636.30" y2="465.20" stroke="#00A087" stroke-width="0.8" />
<line x1="637.30" y1="453.90" x2="637.30" y2="465.20" stroke="#00A087" stroke-width="0.8" />
<line x1="638.90" y1="453.90" x2="638.90" y2="465.20" stroke="#00A087" stroke-width="0.8" />
<line x1="643.50" y1="453.90" x2="643.50" y2="465.20" stroke="#00A087" stroke-width="0.8" />
<line x1="644.60" y1="453.90" x2="644.60" y2="465.20" stroke="#00A087" stroke-width="0.8" />
<line x1="646.60" y1="453.90" x2="646.60" y2="465.20" stroke="#00A087" stroke-width="0.8" />
<line x1="649.80" y1="453.90" x2="649.80" y2="465.20" stroke="#00A087" stroke-width="0.8" />
<line x1="653.90" y1="453.90" x2="653.90" y2="465.20" stroke="#00A087" stroke-width="0.8" />
<line x1="654.90" y1="453.90" x2="654.90" y2="465.20" stroke="#00A087" stroke-width="0.8" />
<line x1="660.60" y1="453.90" x2="660.60" y2="465.20" stroke="#00A087" stroke-width="0.8" />
<line x1="661.20" y1="453.90" x2="661.20" y2="465.20" stroke="#00A087" stroke-width="0.8" />
<line x1="667.40" y1="453.90" x2="667.40" y2="465.20" stroke="#00A087" stroke-width="0.8" />
<line x1="668.40" y1="453.90" x2="668.40" y2="465.20" stroke="#00A087" stroke-width="0.8" />
<line x1="672.00" y1="453.90" x2="672.00" y2="465.20" stroke="#00A087" stroke-width="0.8" />
<line x1="676.20" y1="453.90" x2="676.20" y2="465.20" stroke="#00A087" stroke-width="0.8" />
<line x1="677.20" y1="453.90" x2="677.20" y2="465.20" stroke="#00A087" stroke-width="0.8" />
<line x1="678.80" y1="453.90" x2="678.80" y2="465.20" stroke="#00A087" stroke-width="0.8" />
<line x1="679.80" y1="453.90" x2="679.80" y2="465.20" stroke="#00A087" stroke-width="0.8" />
<rect x="680.30" y="453.90" width="3.90" height="11.30" fill="#00A087"/>
<rect x="430.50" y="293.40" width="253.70" height="135.80" fill="none" stroke="#000" stroke-width="1.2" />
<rect x="430.50" y="429.20" width="253.70" height="36.30" fill="none" stroke="#000" stroke-width="1.2" />
<rect x="430.50" y="465.50" width="253.70" height="72.70" fill="none" stroke="#000" stroke-width="1.2" />
<line x1="425.90" y1="300.40" x2="430.50" y2="300.40" stroke="#111111" stroke-width="1.25" />
<text x="422.00" y="303.40" font-size="8.3" text-anchor="end" fill="#111111" color="#111111" >0.00</text>
<line x1="425.90" y1="335.97" x2="430.50" y2="335.97" stroke="#111111" stroke-width="1.25" />
<text x="422.00" y="338.97" font-size="8.3" text-anchor="end" fill="#111111" color="#111111" >-0.25</text>
<line x1="425.90" y1="371.55" x2="430.50" y2="371.55" stroke="#111111" stroke-width="1.25" />
<text x="422.00" y="374.55" font-size="8.3" text-anchor="end" fill="#111111" color="#111111" >-0.50</text>
<line x1="425.90" y1="407.12" x2="430.50" y2="407.12" stroke="#111111" stroke-width="1.25" />
<text x="422.00" y="410.12" font-size="8.3" text-anchor="end" fill="#111111" color="#111111" >-0.75</text>
<line x1="426.10" y1="481.15" x2="430.50" y2="481.15" stroke="#111111" stroke-width="1.25" />
<text x="422.00" y="484.75" font-size="10.1" text-anchor="end" fill="#111111" color="#111111" >2.5</text>
<line x1="426.10" y1="500.60" x2="430.50" y2="500.60" stroke="#111111" stroke-width="1.25" />
<text x="422.00" y="504.20" font-size="10.1" text-anchor="end" fill="#111111" color="#111111" >0.0</text>
<line x1="426.10" y1="520.05" x2="430.50" y2="520.05" stroke="#111111" stroke-width="1.25" />
<text x="422.00" y="523.65" font-size="10.1" text-anchor="end" fill="#111111" color="#111111" >-2.5</text>
<line x1="430.50" y1="538.20" x2="430.50" y2="542.70" stroke="#111111" stroke-width="1.25" />
<text x="430.50" y="553.80" font-size="10" text-anchor="middle" fill="#111111" color="#111111" >0</text>
<line x1="498.40" y1="538.20" x2="498.40" y2="542.70" stroke="#111111" stroke-width="1.25" />
<text x="498.40" y="553.80" font-size="10" text-anchor="middle" fill="#111111" color="#111111" >10000</text>
<line x1="566.30" y1="538.20" x2="566.30" y2="542.70" stroke="#111111" stroke-width="1.25" />
<text x="566.30" y="553.80" font-size="10" text-anchor="middle" fill="#111111" color="#111111" >20000</text>
<line x1="634.20" y1="538.20" x2="634.20" y2="542.70" stroke="#111111" stroke-width="1.25" />
<text x="634.20" y="553.80" font-size="10" text-anchor="middle" fill="#111111" color="#111111" >30000</text>
<text x="557.35" y="567.60" font-size="10" text-anchor="middle" fill="#111111" color="#111111" >Rank in Ordered Dataset</text>
<text transform="translate(396.50,361.30) rotate(-90)" font-size="10" text-anchor="middle" fill="#111111" color="#111111">Enrichment Score</text>
<text transform="translate(398.50,502.00) rotate(-90)" font-size="10" text-anchor="middle" fill="#111111" color="#111111">Ranked list metric</text>
<line x1="434.30" y1="395.50" x2="443.70" y2="395.50" stroke="#4DBBD5" stroke-width="1.5" />
<text x="449.90" y="393.90" font-size="8.3" text-anchor="start" fill="#111111" color="#111111" >Antigen Activates B Cell Receptor BCR Leading To Generation</text>
<text x="449.90" y="402.80" font-size="8.3" text-anchor="start" fill="#111111" color="#111111" >of Second Messengers</text>
<line x1="434.30" y1="410.00" x2="443.70" y2="410.00" stroke="#E64B35" stroke-width="1.5" />
<text x="449.90" y="412.75" font-size="8.3" text-anchor="start" fill="#111111" color="#111111" >Complement Cascade</text>
<line x1="434.30" y1="421.50" x2="443.70" y2="421.50" stroke="#00A087" stroke-width="1.5" />
<text x="449.90" y="424.60" font-size="8.3" text-anchor="start" fill="#111111" color="#111111" >Diseases of Programmed Cell Death</text>
</svg>
</body></html>
